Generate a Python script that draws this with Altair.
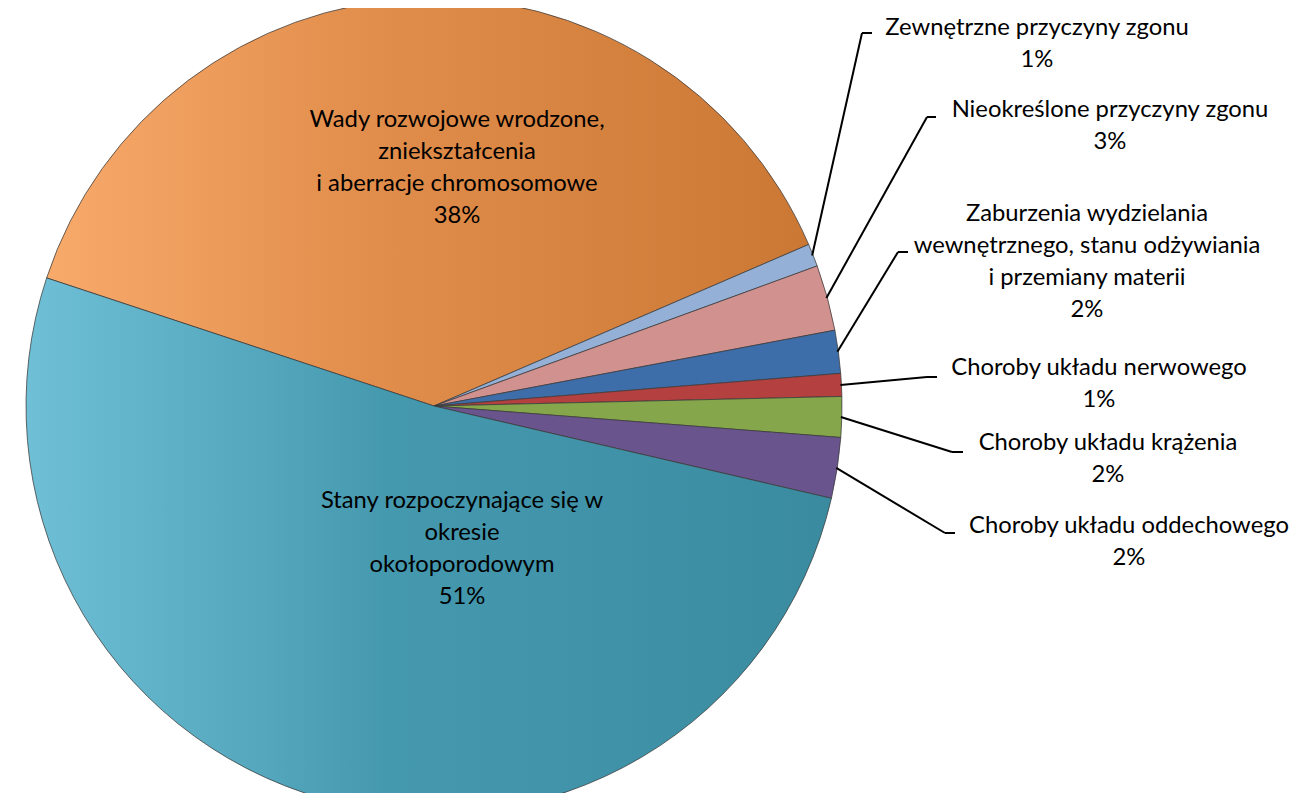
import math
import altair as alt
import pandas as pd

# ---------------- data ----------------
categories = [
    "Wady rozwojowe wrodzone, zniekształcenia i aberracje chromosomowe",
    "Zewnętrzne przyczyny zgonu",
    "Nieokreślone przyczyny zgonu",
    "Zaburzenia wydzielania wewnętrznego, stanu odżywiania i przemiany materii",
    "Choroby układu nerwowego",
    "Choroby układu krążenia",
    "Choroby układu oddechowego",
    "Stany rozpoczynające się w okresie okołoporodowym",
]
values = [38.4, 0.9, 2.6, 1.7, 0.9, 1.6, 2.4, 51.4]
label_lines = [
    "Wady rozwojowe wrodzone,\nzniekształcenia\ni aberracje chromosomowe",
    "Zewnętrzne przyczyny zgonu",
    "Nieokreślone przyczyny zgonu",
    "Zaburzenia wydzielania\nwewnętrznego, stanu odżywiania\ni przemiany materii",
    "Choroby układu nerwowego",
    "Choroby układu krążenia",
    "Choroby układu oddechowego",
    "Stany rozpoczynające się w\nokresie\nokołoporodowym",
]

# ---------------- styles / layout ----------------
colors = ["#DD8744", "#94B0D6", "#D1918F", "#3E6EAA", "#B44040", "#86A64C", "#6A548E", "#4498AD"]
gradients = {
    0: alt.LinearGradient(gradient="linear", x1=0, x2=1, y1=0, y2=0,
                          stops=[alt.GradientStop(color="#F8AA6B", offset=0),
                                 alt.GradientStop(color="#E08C4A", offset=0.45),
                                 alt.GradientStop(color="#CC7835", offset=1)]),
    7: alt.LinearGradient(gradient="linear", x1=0, x2=1, y1=0, y2=0,
                          stops=[alt.GradientStop(color="#6FC0D6", offset=0),
                                 alt.GradientStop(color="#4599AF", offset=0.45),
                                 alt.GradientStop(color="#3A8BA0", offset=1)]),
}
W, H = 1291, 785
OFF = 8                       # page margin
CX, CY, R = 434, 406, 408     # pie centre / radius in page pixels
START_DEG = -71.7             # angle where the first slice starts
FONT = "Lato"
FS = 23.8
LH = 32
# first-line centres of the label blocks (page pixels)
label_pos = [(457, 120), (1037, 28), (1110, 110), (1087, 214),
             (1099, 368), (1108, 443), (1129, 526), (462, 501)]
# leader elbows (page pixels) for the outside labels
elbows = {1: (862, 33, 872), 2: (927, 117, 936), 3: (898, 252, 908),
          4: (927, 377, 937), 5: (952, 452, 963), 6: (945, 533, 955)}

total = sum(values)
pct = [f"{round(v / total * 100)}%" for v in values]

df = pd.DataFrame({"cat": categories, "value": values, "order": list(range(len(values)))})

t0 = math.radians(START_DEG)
theta_scale = alt.Scale(domain=[0, total], range=[t0, t0 + 2 * math.pi])
xs = alt.Scale(domain=[0, W], range=[0, W], nice=False, zero=False)
ys = alt.Scale(domain=[0, H], range=[0, H], nice=False, zero=False)

base = (
    alt.Chart(df)
    .transform_window(cum_end="sum(value)", sort=[alt.SortField("order")], frame=[None, 0])
    .transform_calculate(cum_start="datum.cum_end - datum.value")
)

layers = []
for i in range(len(values)):
    fill = gradients.get(i, colors[i])
    layers.append(
        base.transform_filter(alt.datum.order == i)
        .mark_arc(radius=R, fill=fill, stroke="#3a3a3a", strokeWidth=0.75)
        .encode(
            theta=alt.Theta("cum_start:Q", scale=theta_scale),
            theta2=alt.Theta2("cum_end"),
            x=alt.value(CX - OFF),
            y=alt.value(CY - OFF),
        )
    )

# leader lines: start at each small slice's mid-angle on the rim
segs = []
cum = 0.0
for i, v in enumerate(values):
    mid = cum + v / 2
    cum += v
    if i in elbows:
        ang = t0 + 2 * math.pi * mid / total
        sx = CX + (R - 1) * math.sin(ang) - OFF
        sy = CY - (R - 1) * math.cos(ang) - OFF
        ex, ey, hx = elbows[i]
        segs.append({"x": sx, "y": sy, "x2": ex - OFF, "y2": ey - OFF})
        segs.append({"x": ex - OFF, "y": ey - OFF, "x2": hx - OFF, "y2": ey - OFF})
seg_df = pd.DataFrame(segs)

leaders = alt.Chart(seg_df).mark_rule(color="#000000", strokeWidth=2).encode(
    x=alt.X("x:Q", scale=xs, axis=None),
    y=alt.Y("y:Q", scale=ys, axis=None),
    x2="x2:Q",
    y2="y2:Q",
)

lab_df = pd.DataFrame({
    "text": [f"{n}\n{p}" for n, p in zip(label_lines, pct)],
    "x": [p[0] - OFF for p in label_pos],
    "y": [p[1] - OFF for p in label_pos],
})
labels = alt.Chart(lab_df).mark_text(
    font=FONT, fontSize=FS, lineHeight=LH, lineBreak="\n",
    align="center", baseline="middle", color="#000000",
).encode(
    x=alt.X("x:Q", scale=xs, axis=None),
    y=alt.Y("y:Q", scale=ys, axis=None),
    text="text:N",
)

chart = (
    alt.layer(*layers, leaders, labels)
    .properties(width=W, height=H, autosize=alt.AutoSizeParams(type="none"), padding=0)
    .configure_view(stroke=None)
)

chart.save("out.html", embed_options={"renderer": "svg", "actions": False})
